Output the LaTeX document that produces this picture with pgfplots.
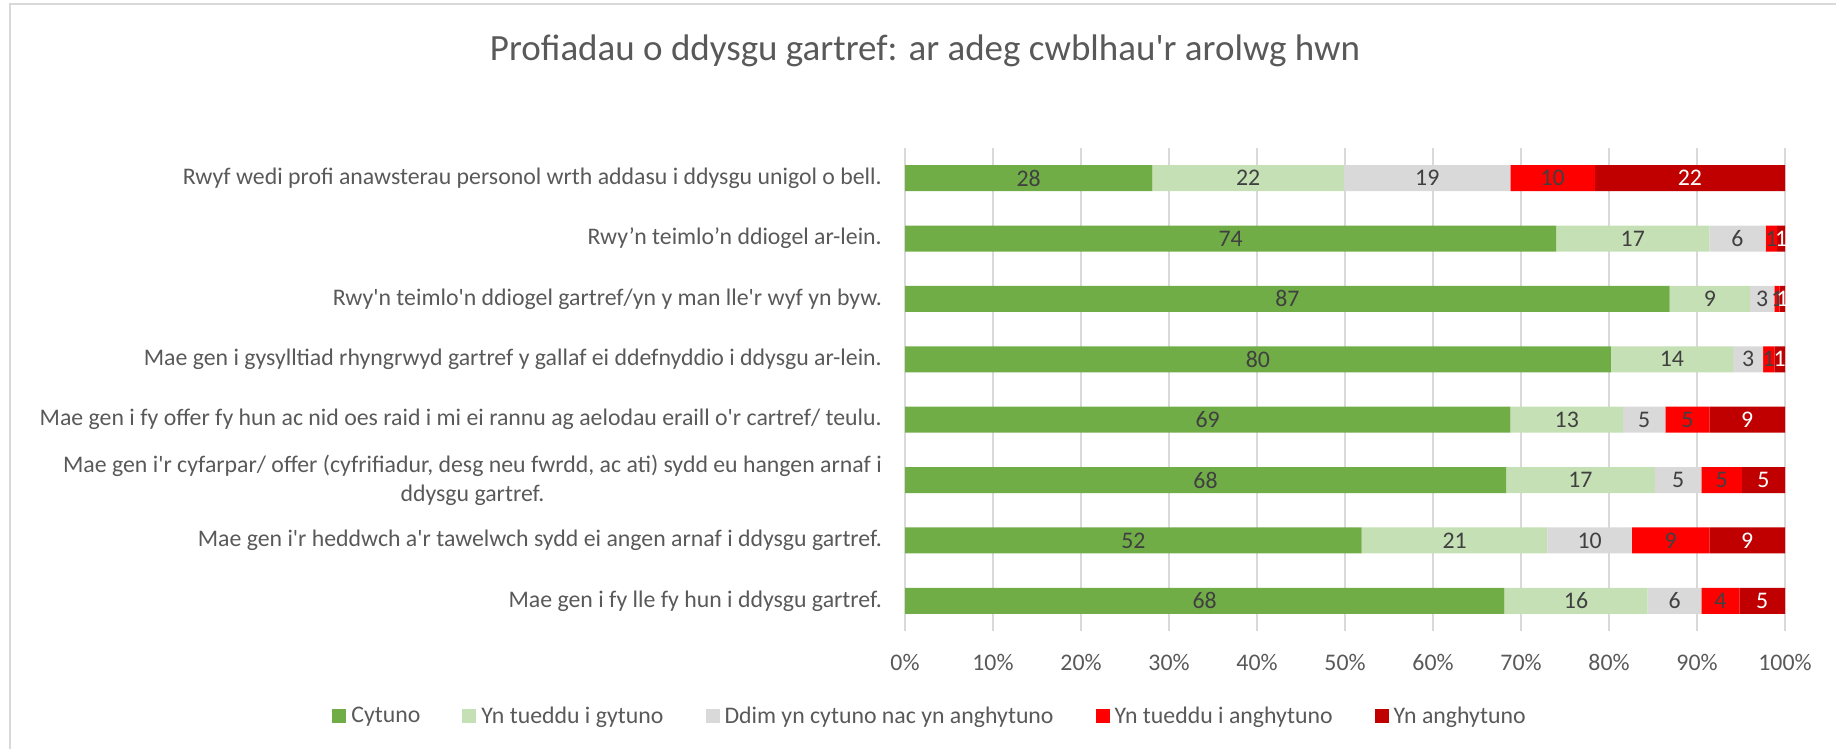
\documentclass[border=0pt]{standalone}
\usepackage{pgfplots}
\pgfplotsset{compat=1.18}
\usepackage{pgfplotstable}
\usepackage{fontspec}
\setmainfont{Carlito}
\definecolor{c1}{HTML}{70AD47}
\definecolor{c2}{HTML}{C5E0B4}
\definecolor{c3}{HTML}{D9D9D9}
\definecolor{c4}{HTML}{FF0000}
\definecolor{c5}{HTML}{C00000}
\definecolor{txt}{HTML}{595959}
\definecolor{lbl}{HTML}{404040}
\newcommand\fs{\fontsize{23.8}{29}\selectfont}
\newcommand\q{\textquotesingle}
\pgfplotstableread{
y a b c d e
0 28.1 21.8 18.9 9.6 21.6
1 74.0 17.4 6.4 1.3 0.9
2 86.9 9.1 2.8 0.6 0.6
3 80.2 13.9 3.4 1.3 1.2
4 68.8 12.8 4.8 5.0 8.6
5 68.3 16.9 5.3 4.6 4.9
6 51.9 21.1 9.6 8.8 8.6
7 68.1 16.3 6.1 4.3 5.2
}\data
\begin{document}
\begin{tikzpicture}
\useasboundingbox (0,0) rectangle (1836pt,749pt);
\draw[c3, line width=1.5pt] (10pt,0) -- (10pt,745pt) -- (1836pt,745pt);
\node[anchor=base, text=txt, font=\fontsize{37}{44}\selectfont, inner sep=0pt] at (925pt,688pt) {Profiadau o ddysgu gartref: ar adeg cwblhau\q r arolwg hwn};
\pgfplotsset{common/.style={at={(905pt,118pt)}, anchor=south west, width=880pt, height=483pt, scale only axis, xmin=0, xmax=100, ymin=-0.5, ymax=7.5, y dir=reverse, /pgf/number format/assume math mode=true}}
\begin{axis}[common, xbar stacked, bar width=26pt,
  axis line style={draw=none}, major tick length=0pt,
  xmajorgrids, grid style={c3, line width=1.3pt},
  xtick={0,10,...,100}, xticklabel={\pgfmathprintnumber{\tick}\%},
  xticklabel style={font=\fs, text=txt, inner sep=0pt, yshift=-23pt},
  ytick={0,...,7},
  yticklabels={
    Rwyf wedi profi anawsterau personol wrth addasu i ddysgu unigol o bell.,
    Rwy’n teimlo’n ddiogel ar-lein.,
    Rwy\q n teimlo\q n ddiogel gartref/yn y man lle\q r wyf yn byw.,
    Mae gen i gysylltiad rhyngrwyd gartref y gallaf ei ddefnyddio i ddysgu ar-lein.,
    Mae gen i fy offer fy hun ac nid oes raid i mi ei rannu ag aelodau eraill o\q r cartref/ teulu.,
    {Mae gen i\q r cyfarpar/ offer (cyfrifiadur, desg neu fwrdd, ac ati) sydd eu hangen arnaf i\\ddysgu gartref.},
    Mae gen i\q r heddwch a\q r tawelwch sydd ei angen arnaf i ddysgu gartref.,
    Mae gen i fy lle fy hun i ddysgu gartref.},
  yticklabel style={font=\fs, text=txt, align=center, inner sep=0pt, xshift=-23pt},
  legend columns=5,
  legend style={at={(0.0284,-0.175)}, anchor=center, draw=none, fill=none, font=\fs, text=txt,
    /tikz/every even column/.append style={column sep=40pt}},
  legend image code/.code={\fill[#1] (0pt,-7pt) rectangle (14pt,7pt); \path (17pt,0pt);},
]
\addplot[fill=c1, draw=none] table[x=a, y=y]{\data}; \addlegendentry{Cytuno}
\addplot[fill=c2, draw=none] table[x=b, y=y]{\data}; \addlegendentry{Yn tueddu i gytuno}
\addplot[fill=c3, draw=none] table[x=c, y=y]{\data}; \addlegendentry{Ddim yn cytuno nac yn anghytuno}
\addplot[fill=c4, draw=none] table[x=d, y=y]{\data}; \addlegendentry{Yn tueddu i anghytuno}
\addplot[fill=c5, draw=none] table[x=e, y=y]{\data}; \addlegendentry{Yn anghytuno}
\end{axis}
\begin{axis}[common, hide axis, point meta=explicit,
  nodes near coords={\pgfmathprintnumber[fixed,precision=0]{\pgfplotspointmeta}},
  every node near coord/.append style={font=\fs, text=lbl, anchor=center, inner sep=0pt}]
\addplot[only marks, mark=none] table[x expr=\thisrow{a}/2, y=y, meta=a]{\data};
\addplot[only marks, mark=none] table[x expr=\thisrow{a}+\thisrow{b}/2, y=y, meta=b]{\data};
\addplot[only marks, mark=none] table[x expr=\thisrow{a}+\thisrow{b}+\thisrow{c}/2, y=y, meta=c]{\data};
\addplot[only marks, mark=none] table[x expr=\thisrow{a}+\thisrow{b}+\thisrow{c}+\thisrow{d}/2, y=y, meta=d]{\data};
\addplot[only marks, mark=none, every node near coord/.append style={text=white}] table[x expr=\thisrow{a}+\thisrow{b}+\thisrow{c}+\thisrow{d}+\thisrow{e}/2, y=y, meta=e]{\data};
\end{axis}
\end{tikzpicture}
\end{document}
